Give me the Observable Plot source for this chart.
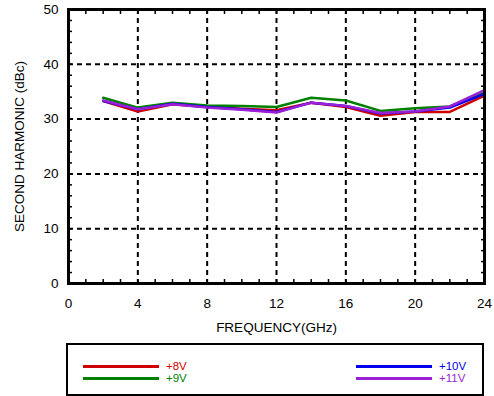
<!DOCTYPE html>
<html><head><meta charset="utf-8">
<script src="https://cdn.jsdelivr.net/npm/d3@7"></script>
<script src="https://cdn.jsdelivr.net/npm/@observablehq/plot@0.6"></script>
<style>
body{margin:0;background:#fff;font-family:"Liberation Sans",Arial,sans-serif;}
#wrap{position:relative;width:494px;height:396px;}
#legend{position:absolute;left:66px;top:343px;width:414px;height:49px;border:2px solid #000;}
.li{position:absolute;font-size:11.5px;line-height:11px;height:11px;}
.sw{position:absolute;height:3px;width:76px;}
</style></head><body>
<div id="wrap"><div id="chart"></div><div id="legend"></div></div>
<script>
const freq = [2,4,6,8,10,12,14,16,18,20,22,24];
const v8  = [33.3,31.4,32.7,32.2,31.9,31.6,33.0,32.2,30.6,31.3,31.3,34.3];
const v9  = [33.9,32.1,33.0,32.5,32.4,32.2,33.9,33.4,31.5,32.0,32.3,34.8];
const v10 = [33.3,31.8,32.8,32.2,31.8,31.3,33.0,32.4,31.0,31.4,32.1,34.6];
const v11 = [33.4,31.8,32.7,32.1,31.7,31.2,33.0,32.4,31.1,31.4,32.3,35.3];
const seriesNames = ["+8V","+9V","+10V","+11V"];
const seriesColors = ["#d00000","#008000","#0000ee","#9a1fd6"];
const xTicks = [0,4,8,12,16,20,24];
const yTicks = [0,10,20,30,40,50];

const all = [v8,v9,v10,v11];
const data = [];
all.forEach((vals,i)=>vals.forEach((v,j)=>data.push({f:freq[j],v,s:seriesNames[i]})));

const plot = Plot.plot({
  width:494, height:340,
  marginLeft:68, marginRight:10, marginTop:9, marginBottom:57,
  style:{fontFamily:"Liberation Sans, Arial, sans-serif", fontSize:"13px", color:"#000", background:"#fff"},
  x:{domain:[0,24]},
  y:{domain:[0,50]},
  color:{domain:seriesNames, range:seriesColors},
  marks:[
    Plot.gridX(xTicks.slice(1,-1),{stroke:"#000",strokeOpacity:1,strokeWidth:2,strokeDasharray:"5,4"}),
    Plot.gridY(yTicks.slice(1,-1),{stroke:"#000",strokeOpacity:1,strokeWidth:2,strokeDasharray:"5,4"}),
    Plot.axisX({anchor:"bottom",ticks:d3.range(0,25,1),tickSize:-4,strokeWidth:1.5,text:null,label:null}),
    Plot.axisX({anchor:"top",ticks:d3.range(0,25,1),tickSize:-4,strokeWidth:1.5,text:null,label:null}),
    Plot.axisY({anchor:"left",ticks:d3.range(0,51,2),tickSize:-4,strokeWidth:1.5,text:null,label:null}),
    Plot.axisY({anchor:"right",ticks:d3.range(0,51,2),tickSize:-4,strokeWidth:1.5,text:null,label:null}),
    Plot.axisX({anchor:"bottom",ticks:xTicks,tickSize:0,tickPadding:15,fontSize:13.5,label:"FREQUENCY(GHz)",labelAnchor:"center",labelArrow:"none",labelOffset:48}),
    Plot.axisY({anchor:"left",ticks:yTicks,tickSize:0,tickPadding:10,fontSize:13.5,label:"SECOND HARMONIC (dBc)",labelAnchor:"center",labelArrow:"none",labelOffset:54}),
    Plot.line(data,{x:"f",y:"v",stroke:"s",z:"s",strokeWidth:2.5}),
    Plot.frame({stroke:"#000",strokeWidth:3})
  ]
});
document.getElementById("chart").appendChild(plot);

const lg = document.getElementById("legend");
const pos = [[15,21],[15,33],[288,21],[288,33]];
seriesNames.forEach((n,i)=>{
  const [x,y]=pos[i];
  const sw=document.createElement("div");sw.className="sw";
  sw.style.left=x+"px";sw.style.top=(y-1)+"px";sw.style.background=seriesColors[i];
  lg.appendChild(sw);
  const t=document.createElement("div");t.className="li";t.textContent=n;
  t.style.left=(x+83)+"px";t.style.top=(y-5)+"px";t.style.color=seriesColors[i];
  lg.appendChild(t);
});
</script></body></html>
